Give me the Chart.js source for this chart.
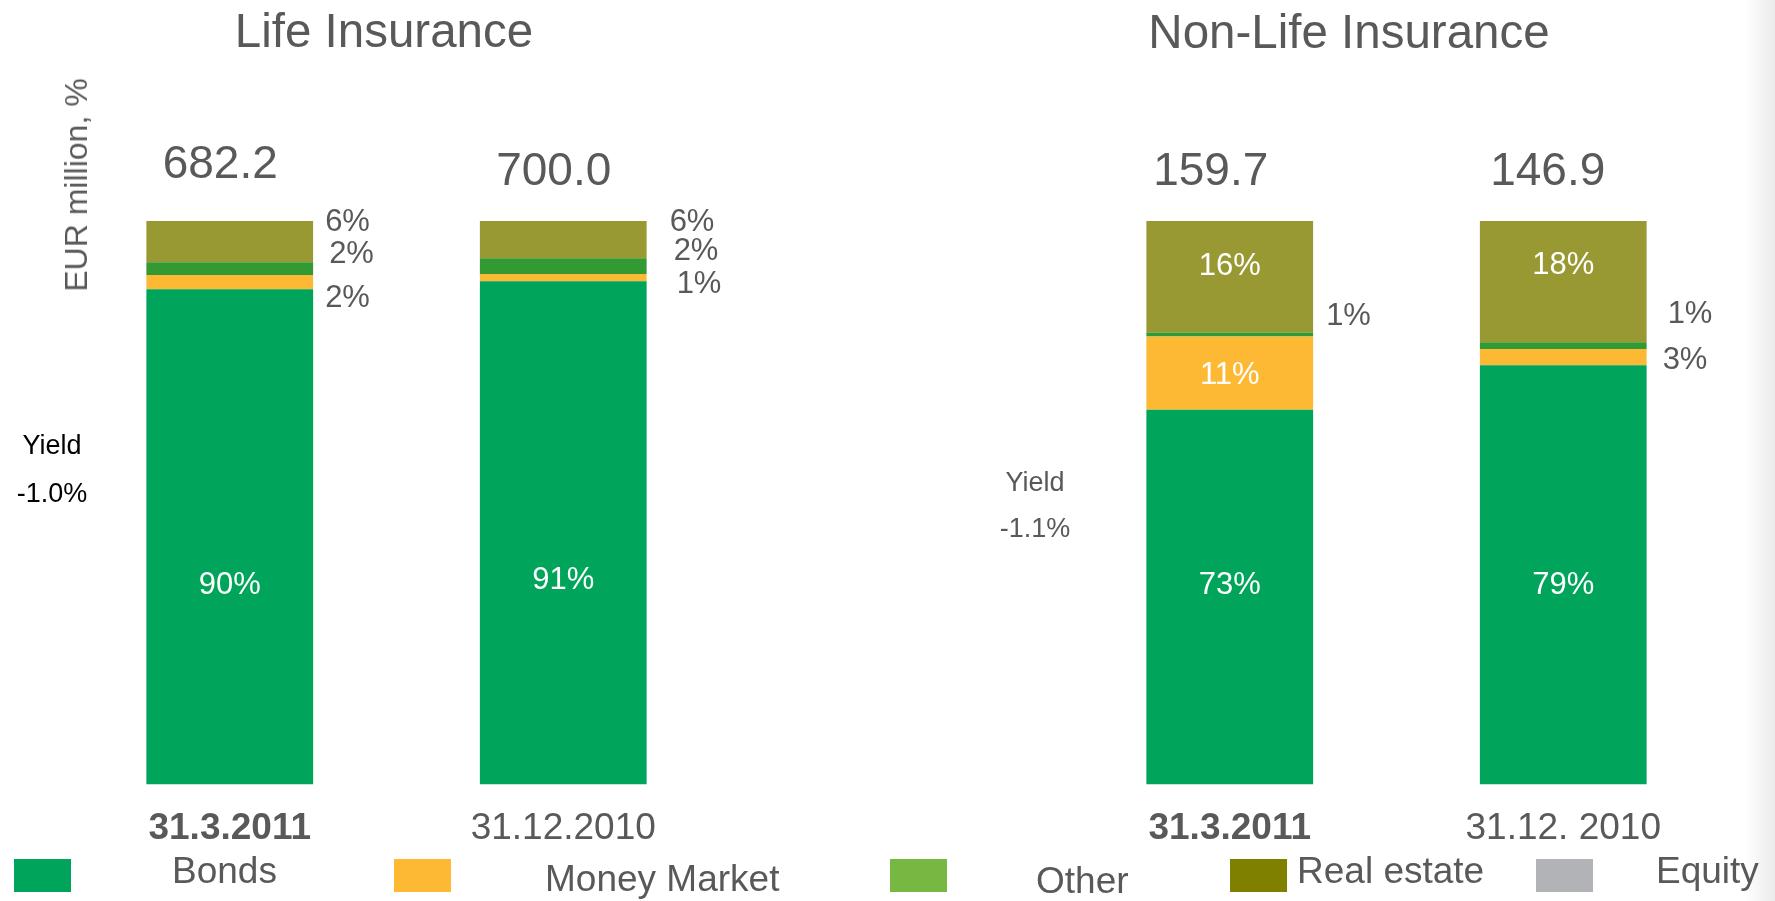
<!DOCTYPE html>
<html>
<head>
<meta charset="utf-8">
<script src="https://cdn.jsdelivr.net/npm/chart.js@4.4.1/dist/chart.umd.min.js"></script>
<style>
  html, body { margin: 0; padding: 0; background: #fff; }
  body { width: 1775px; height: 901px; position: relative; overflow: hidden;
         font-family: "Liberation Sans", Arial, sans-serif; color: #595959; }
  .txt { position: absolute; line-height: 1; white-space: nowrap; }
  canvas { position: absolute; top: 0; }
  .sw { position: absolute; top: 859px; width: 57px; height: 33px; }
  #shade { position: absolute; left: 1745px; top: 0; width: 30px; height: 901px;
           background: linear-gradient(to right, rgba(236,236,236,0), #ebebeb); }
</style>
</head>
<body>
<canvas id="lifeChart" width="887" height="901" style="left:0"></canvas>
<canvas id="nonLifeChart" width="888" height="901" style="left:887px"></canvas>
<div id="shade"></div>
<script>
// --- data ---
const seriesNames = ['Bonds', 'Money Market', 'Other', 'Real estate', 'Equity'];
const lifeDates = ['31.3.2011', '31.12.2010'];
const nonLifeDates = ['31.3.2011', '31.12. 2010'];

// share of bar height as drawn (%)
const lifeBonds = [87.9, 89.3];
const lifeMoneyMarket = [2.5, 1.3];
const lifeOther = [2.3, 2.8];
const lifeRealEstate = [7.3, 6.6];
const lifeEquity = [0, 0];

const nonLifeBonds = [66.5, 74.4];
const nonLifeMoneyMarket = [13.0, 2.9];
const nonLifeOther = [0.7, 1.2];
const nonLifeRealEstate = [19.8, 21.5];
const nonLifeEquity = [0, 0];

// printed percentages (series order)
const lifePct = [[90, 91], [2, 1], [2, 2], [6, 6], [null, null]];
const nonLifePct = [[73, 79], [11, 3], [1, 1], [16, 18], [null, null]];

const lifeTotals = [682.2, 700.0];
const nonLifeTotals = [159.7, 146.9];
const lifeYield = '-1.0%';
const nonLifeYield = '-1.1%';

// --- style ---
const FONT = '"Liberation Sans", Arial, sans-serif';
const GREY = '#595959';
const barColors = ['#00a55b', '#fdb934', '#339933', '#999933', '#b2b3b6'];
const legendColors = ['#00a55b', '#fdb934', '#77b843', '#808000', '#b2b3b6'];

// label placement per series per bar: [inside, dx, dy]
const lifePlace = [
  [[1, 0, 46], [1, 0, 45.5]],
  [[0, 12, 14], [0, 30, 4.5]],
  [[0, 16, -16.5], [0, 27, -17]],
  [[0, 12, -21.5], [0, 23, -19.5]],
  [[0, 0, 0], [0, 0, 0]]
];
const nonLifePlace = [
  [[1, 0, -14], [1, 0, 8]],
  [[1, 0, 0], [0, 16, 1]],
  [[0, 13, -21], [0, 21, -33.5]],
  [[1, 0, -12.5], [1, 0, -18.5]],
  [[0, 0, 0], [0, 0, 0]]
];

const labelPlugin = {
  id: 'segLabels',
  afterDatasetsDraw(chart, args, opts) {
    const ctx = chart.ctx;
    ctx.save();
    ctx.font = '31px ' + FONT;
    chart.data.datasets.forEach((ds, i) => {
      const meta = chart.getDatasetMeta(i);
      meta.data.forEach((el, j) => {
        const v = opts.pct[i][j];
        if (v == null) return;
        const p = opts.place[i][j];
        const mid = (el.y + el.base) / 2 + p[2] + 11;
        if (p[0]) {
          ctx.fillStyle = '#fff';
          ctx.textAlign = 'center';
          ctx.fillText(v + '%', el.x, mid);
        } else {
          ctx.fillStyle = GREY;
          ctx.textAlign = 'left';
          ctx.fillText(v + '%', el.x + el.width / 2 + p[1], mid);
        }
      });
    });
    // totals above each bar
    ctx.font = '46px ' + FONT;
    ctx.fillStyle = GREY;
    ctx.textAlign = 'center';
    const top = chart.getDatasetMeta(chart.data.datasets.length - 1).data;
    top.forEach((el, j) => {
      ctx.fillText(opts.totals[j].toFixed(1), el.x + opts.totalDx[j], el.y + opts.totalDy[j]);
    });
    ctx.restore();
  }
};

function makePanel(id, dates, values, pct, place, totals, totalDx, totalDy, padL, padR) {
  new Chart(document.getElementById(id), {
    type: 'bar',
    data: {
      labels: dates,
      datasets: values.map((d, i) => ({
        label: seriesNames[i],
        data: d,
        backgroundColor: barColors[i],
        borderWidth: 0,
        categoryPercentage: 1,
        barPercentage: 0.5
      }))
    },
    options: {
      responsive: false,
      animation: false,
      layout: { padding: { left: padL, right: padR, top: 221, bottom: 36 } },
      plugins: {
        legend: { display: false },
        tooltip: { enabled: false },
        segLabels: { pct: pct, place: place, totals: totals, totalDx: totalDx, totalDy: totalDy }
      },
      scales: {
        y: { stacked: true, min: 0, max: 100, display: false },
        x: {
          stacked: true,
          grid: { display: false },
          border: { display: false },
          ticks: {
            color: GREY,
            padding: 14,
            font: (c) => ({ family: FONT, size: 37, weight: c.index === 0 ? 'bold' : 'normal' })
          }
        }
      }
    },
    plugins: [labelPlugin]
  });
}

makePanel('lifeChart', lifeDates,
  [lifeBonds, lifeMoneyMarket, lifeOther, lifeRealEstate, lifeEquity],
  lifePct, lifePlace, lifeTotals, [-9.5, -9.5], [-43, -36], 63, 157);
makePanel('nonLifeChart', nonLifeDates,
  [nonLifeBonds, nonLifeMoneyMarket, nonLifeOther, nonLifeRealEstate, nonLifeEquity],
  nonLifePct, nonLifePlace, nonLifeTotals, [-19, -15.5], [-36, -36], 176, 45);

// --- text outside the charts ---
function addText(str, x, baseline, size, opts) {
  const d = document.createElement('div');
  d.className = 'txt';
  d.textContent = str;
  d.style.fontSize = size + 'px';
  d.style.top = (baseline - 0.8465 * size) + 'px';
  if (opts && opts.color) d.style.color = opts.color;
  d.style.left = x + 'px';
  if (opts && opts.center) d.style.transform = 'translateX(-50%)';
  document.body.appendChild(d);
  return d;
}

addText('Life Insurance', 384, 47, 47.5, { center: true });
addText('Non-Life Insurance', 1349, 48, 47.5, { center: true });

addText('Yield', 52, 455, 27, { center: true, color: '#000' });
addText(lifeYield, 52, 503, 27, { center: true, color: '#000' });
addText('Yield', 1035, 492, 27, { center: true });
addText(nonLifeYield, 1035, 538, 27, { center: true });

const yt = document.createElement('div');
yt.className = 'txt';
yt.textContent = 'EUR million, %';
yt.style.fontSize = '32px';
yt.style.left = '76px';
yt.style.top = '185px';
yt.style.transform = 'translate(-50%, -50%) rotate(-90deg)';
document.body.appendChild(yt);

// legend
const swatchX = [14, 394, 890, 1230, 1536];
const legendTextX = [172, 545, 1036, 1297, 1656];
const legendBase = [883, 891, 893, 883, 883];
seriesNames.forEach((name, i) => {
  const s = document.createElement('div');
  s.className = 'sw';
  s.style.left = swatchX[i] + 'px';
  s.style.background = legendColors[i];
  document.body.appendChild(s);
  addText(name, legendTextX[i], legendBase[i], 37);
});
</script>
</body>
</html>
